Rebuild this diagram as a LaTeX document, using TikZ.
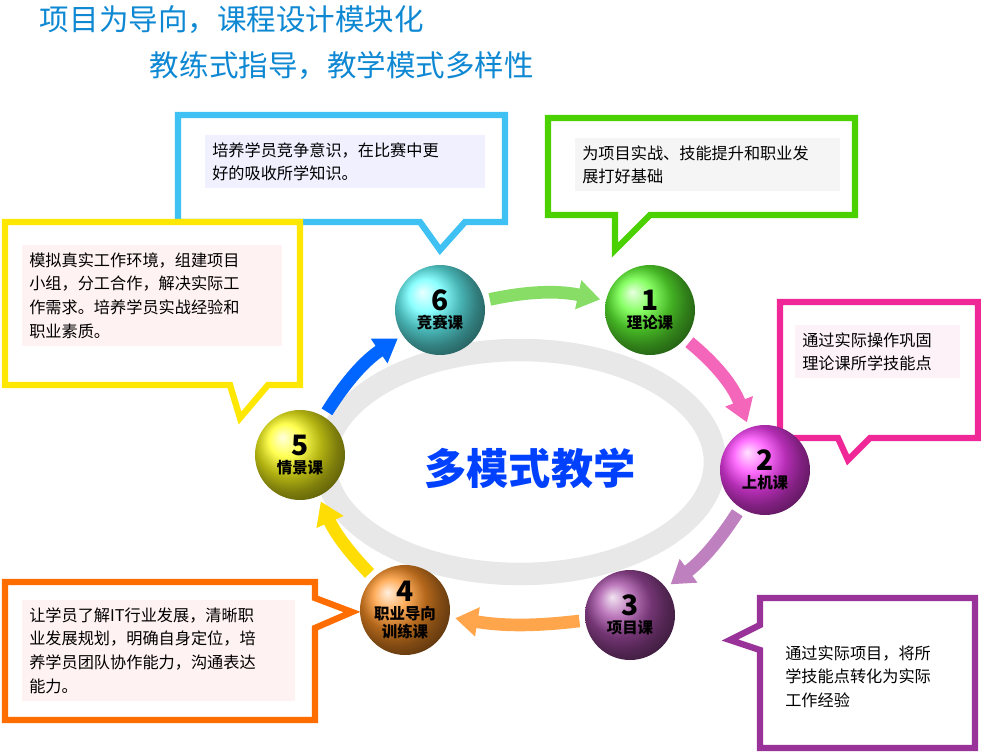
\documentclass[tikz,border=0pt]{standalone}
\usepackage{fontspec}
\setmainfont{Noto Sans CJK SC}
\usetikzlibrary{arrows.meta}
\tikzset{
  frame/.style={line width=4.5pt, fill=white, line join=miter},
  txt/.style={font=\fontsize{11.5}{17}\selectfont, align=left, inner sep=5pt, anchor=north west},
  ball/.style={circle, minimum size=64pt, inner sep=0pt, ball color=#1, align=center,
    font=\fontsize{11}{13}\selectfont\bfseries, text=black},
  flow/.style={line width=9pt, draw=#1, -{Triangle[length=16pt,width=20pt]}, shorten <=4pt, shorten >=4pt}
}
\newcommand{\num}[1]{{\fontsize{20}{20}\selectfont\itshape #1}\\}
\begin{document}
\begin{tikzpicture}[x=0.025cm,y=-0.025cm]
    \useasboundingbox (0,0) rectangle (981,756);

    % Titles
    \node[anchor=west, text=cyan!70!blue, font=\fontsize{21}{21}\selectfont\itshape] (h1) at (35,20) {项目为导向，课程设计模块化};
    \node[anchor=west, text=cyan!70!blue, font=\fontsize{21}{21}\selectfont\itshape] (h2) at (145,66) {教练式指导，教学模式多样性};

    % Ring
    \draw[line width=16pt, gray!18] (520,462) ellipse (195 and 112);
    \node[text=blue!75!cyan, font=\fontsize{30}{30}\selectfont\bfseries] (core) at (530,468) {多模式教学};

    % Callouts
    \draw[frame, draw=cyan!75] (178,115) -- (505,115) -- (505,222) -- (465,222) -- (440,250) -- (420,222) -- (178,222) -- cycle;
    \node[txt, fill=blue!6, text width=189pt] (t6) at (205,135) {培养学员竞争意识，在比赛中更\\好的吸收所学知识。};
    \draw[frame, draw=green!70!black!60!lime] (548,118) -- (855,118) -- (855,215) -- (650,215) -- (615,250) -- (615,215) -- (548,215) -- cycle;
    \node[txt, fill=gray!8, text width=178pt] (t1) at (575,138) {为项目实战、技能提升和职业发\\展打好基础};
    \draw[frame, draw=yellow!90!orange] (5,222) -- (300,222) -- (300,385) -- (268,385) -- (240,418) -- (230,385) -- (5,385) -- cycle;
    \node[txt, fill=red!5, text width=175pt] (t5) at (22,245) {模拟真实工作环境，组建项目\\小组，分工合作，解决实际工\\作需求。培养学员实战经验和\\职业素质。};
    \draw[frame, draw=magenta!80!pink] (780,302) -- (978,302) -- (978,438) -- (870,438) -- (848,460) -- (838,438) -- (780,438) -- cycle;
    \node[txt, fill=magenta!5, text width=107pt] (t2) at (795,325) {通过实际操作巩固\\理论课所学技能点};
    \draw[frame, draw=orange!85!red] (5,582) -- (315,582) -- (315,598) -- (352,612) -- (315,628) -- (315,720) -- (5,720) -- cycle;
    \node[txt, fill=red!5, text width=184pt] (t4) at (22,600) {让学员了解IT行业发展，清晰职\\业发展规划，明确自身定位，培\\养学员团队协作能力，沟通表达\\能力。};
    \draw[frame, draw=violet!80] (760,598) -- (975,598) -- (975,748) -- (760,748) -- (760,650) -- (730,640) -- (760,625) -- cycle;
    \node[txt, text width=119pt] (t3) at (778,638) {通过实际项目，将所\\学技能点转化为实际\\工作经验};

    % Balls
    \node[ball=cyan!60!white] (c6) at (440,310) {\num{6}竞赛课};
    \node[ball=green!70!lime!80!white] (c1) at (650,310) {\num{1}理论课};
    \node[ball=magenta!75!white] (c2) at (765,470) {\num{2}上机课};
    \node[ball=violet!70!white] (c3) at (630,615) {\num{3}项目课};
    \node[ball=orange!85!white] (c4) at (405,610) {\num{4}职业导向\\训练课};
    \node[ball=yellow!90!white] (c5) at (300,455) {\num{5}情景课};

    % Flow
    \draw[flow=green!55!olive!60] (c6) to[bend left=12] (c1);
    \draw[flow=magenta!60] (c1) to[bend left=15] (c2);
    \draw[flow=violet!50] (c2) to[bend left=10] (c3);
    \draw[flow=orange!70] (c3) to[bend left=8] (c4);
    \draw[flow=yellow!80!orange] (c4) to[bend left=10] (c5);
    \draw[flow=blue!60!cyan] (c5) to[bend left=12] (c6);
\end{tikzpicture}
\end{document}
